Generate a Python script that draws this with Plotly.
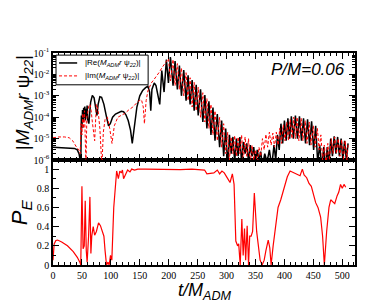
import plotly.graph_objects as go

# ---- data ----
re_t = [0, 10, 20, 30, 37, 42, 45, 47, 48,
        49, 50, 51, 52, 53, 54, 55, 56, 57, 58, 59, 60, 62,
        65, 68, 71, 74, 76, 78, 81, 84, 88, 92, 96, 99, 103, 108, 113, 118, 122,
        126, 130, 134, 137, 140, 145, 150, 155, 160, 164, 167, 169, 171, 175, 178,
        181, 184.5, 188, 192, 196, 199.5, 203, 207.5, 211, 215, 218.5, 222, 226, 230,
        233.5, 237, 240.5, 244, 247.5, 251, 255, 259, 262.5, 266, 269.5, 273, 276.5,
        280, 284, 288, 291.5, 295, 298.5, 302, 305, 308, 311, 314, 317, 320, 323,
        326, 329, 332, 335, 338, 341, 344, 347, 350, 353, 356, 359, 362, 366, 370,
        374, 378, 382, 385, 388, 391, 394, 397, 400, 403, 406, 409, 412, 415.5, 419,
        422.5, 426, 429.5, 433, 436.5, 440, 443.5, 447, 450.5, 454, 457.5, 461, 464.5,
        468, 471, 474, 477, 480, 483, 486, 489, 492, 495, 498, 501, 504, 507, 510]
re_v = [4.0e-6, 3.9e-6, 3.8e-6, 3.7e-6, 3.5e-6, 3.0e-6, 2.0e-6, 1.0e-6, 5e-7,
        1.2e-4, 3e-5, 2.2e-4, 6e-5, 2.8e-4, 9e-5, 3.2e-4, 7e-5, 2.5e-4, 1.1e-4, 3.5e-4, 8e-5, 5e-5,
        5e-4, 1.05e-3, 8e-4, 2.5e-4, 1.2e-4, 4e-4, 9e-4, 8.5e-4, 4e-4, 1.2e-4, 4e-5, 5e-5, 1e-4,
        1.4e-4, 1.7e-4, 1.9e-4, 1.8e-4,
        1.3e-4, 7e-5, 2.5e-5, 6e-6, 3e-5, 3e-4, 1e-3, 1.8e-3, 2.4e-3, 2.8e-3, 1.5e-3, 2e-4, 2e-3, 4e-3, 3e-3,
        1e-3, 4e-4, 1.5e-2, 1.5e-3, 5e-2, 4e-3, 6.5e-2, 3e-3, 4.2e-2, 2e-3, 2.6e-2, 1e-3, 1.6e-2, 6e-4,
        9e-3, 4e-4, 5.5e-3, 2e-4, 3.3e-3, 1.2e-4, 2e-3, 6e-5, 1.1e-3, 3e-5, 5.5e-4, 1.5e-5, 2.8e-4,
        8e-6, 1.4e-4, 4e-6, 7e-5, 1.5e-6, 3e-5, 5e-7, 1.5e-5, 2e-6, 1.2e-5, 8e-7, 1e-5, 1.5e-6, 1.2e-5,
        7e-7, 7e-6, 2e-6, 6e-6, 8e-7, 5e-6, 1.5e-6, 4e-6, 6e-7, 3e-6, 1e-6, 2.5e-6, 5e-7, 2e-6, 8e-7,
        3e-6, 5e-7, 5e-6, 1e-6, 1.5e-5, 3e-6, 5e-5, 6e-6, 7e-5, 8e-6, 9e-5, 1e-5, 1.1e-4, 1e-5, 1.2e-4,
        1e-5, 1.1e-4, 8e-6, 9e-5, 6e-6, 8e-5, 5e-6, 6.5e-5, 3e-6, 4e-5, 8e-7, 5e-6, 5e-7,
        4e-6, 3e-7, 4e-6, 6e-7, 1e-5, 1.5e-6, 1.3e-5, 2e-6, 1.2e-5, 1.5e-6, 1e-5, 1e-6, 8e-6, 1e-6, 6e-6]

im_t = [0, 10, 20, 28, 34, 38, 42, 45, 47, 48.5, 50, 51.5, 53, 54.5, 56, 57, 58.5, 60,
        62, 64, 66, 68, 70, 72, 75, 78, 81, 84.5, 87, 90, 94, 98, 102, 106, 112, 118, 124,
        131, 138, 144, 149, 153, 156, 158, 161, 164, 170, 175, 180, 184, 188, 192.5, 196,
        199.5, 203, 207.5, 211, 215, 218.5, 222, 226, 230, 233.5, 237, 240.5, 244, 247.5,
        251, 255, 259, 262.5, 266, 269.5, 273, 276.5, 280, 284, 288, 291.5, 295, 298.5, 302,
        305, 308, 311, 314, 317, 320, 323, 326, 329, 332, 335, 338, 341, 344, 347, 350, 353,
        356, 359, 362, 365, 368, 371, 374, 377, 380, 383, 386, 389, 392, 395, 398, 401, 404,
        407, 410, 413, 416, 419, 422, 425, 429, 432, 436, 439, 443, 446, 450, 453, 457, 460,
        463, 466, 469, 472, 475, 478, 481, 484, 487, 490, 493, 496, 499, 502, 505, 508, 510]
im_v = [1.1e-5, 1.2e-5, 1.2e-5, 1.1e-5, 8e-6, 5e-6, 3.5e-6, 3e-6, 2e-6, 5e-5, 1.5e-5, 1.5e-4,
        3e-5, 2e-4, 8e-6, 5e-7, 1e-4, 2e-4,
        3.5e-4, 4e-4, 2e-4, 6e-5, 2e-5, 8e-6, 4e-4, 2e-4, 3e-5, 5e-7, 2e-5, 8e-5, 1e-4, 3e-5,
        6e-6, 4e-5, 1e-4, 1.2e-4, 1.5e-4,
        2.2e-4, 3e-4, 4.5e-4, 6e-4, 6.5e-4, 3e-4, 5e-5, 6e-4, 1.7e-3, 4e-3, 6e-3, 9e-3, 1.3e-2,
        2e-2, 3e-2, 4.5e-2,
        5.5e-2, 5e-3, 5e-2, 3e-3, 3.2e-2, 2e-3, 2e-2, 1e-3, 1.2e-2, 6e-4, 7e-3, 3e-4, 4.2e-3, 2e-4,
        2.5e-3, 1e-4, 1.4e-3, 6e-5, 7.5e-4, 3e-5, 4e-4, 1.5e-5, 2e-4, 8e-6, 1e-4, 4e-6, 5e-5, 2e-6,
        2e-5,
        1e-6, 1.2e-5, 2e-6, 1.4e-5, 1.5e-6, 1.2e-5, 2e-6, 1.5e-5, 1e-6, 1.2e-5, 1.5e-6, 1e-5, 7e-7,
        5e-6, 1e-6, 3e-6, 5e-7,
        4e-6, 1.5e-6, 1e-5, 3e-6, 1.6e-5, 4e-6, 2e-5, 5e-6, 1.8e-5, 4e-6, 2e-5, 5e-6, 3e-5, 6e-6,
        4.5e-5, 8e-6, 6e-5,
        8e-6, 8e-5, 1e-5, 1e-4, 1e-5, 1e-4, 8e-6, 9e-5, 8e-6, 7e-5, 6e-6, 6e-5, 5e-6, 4e-5, 4e-6,
        3e-5, 3e-6,
        1.5e-5, 1e-6, 5e-6, 5e-7, 6e-6, 1e-6, 1e-5, 2e-6, 1.2e-5, 2e-6, 1e-5, 1.5e-6, 9e-6, 1e-6,
        8e-6, 1e-6, 5e-6]

pe_t = [0, 2, 5, 8, 15, 25, 35, 42, 47, 48,
        50, 52, 54, 55.7, 57.5, 59, 61.5, 63.8, 65.5, 67, 69.5, 72, 75, 78.7, 82, 85.6, 88,
        90, 92.5, 95, 97, 99.4, 101.7, 105, 108, 110, 113, 115.5, 118, 120, 122, 126, 129,
        133, 136, 141, 146.5, 160, 180, 200, 220, 240, 255, 262, 266, 272, 278, 284, 288,
        292, 296, 302, 306, 310, 313, 316, 319, 321, 323.6, 326.4, 328.7, 331, 333, 335.6,
        338, 340, 342.5, 345, 348, 352, 354.6, 358, 361.5, 365, 368, 372, 374.7, 377,
        380.5, 385, 389, 393.7, 399, 405, 409.8, 416.7, 422, 427, 431, 434, 438.5, 442.5,
        446.5, 450, 454, 458, 462.6, 466, 469, 473, 477, 480, 483, 487, 491, 494, 497, 500,
        503, 506]
pe_v = [0.05, 0.22, 0.255, 0.26, 0.24, 0.2, 0.14, 0.08, 0.02, 0.0,
        0.82, 0.17, 0.2, 0.67, 0.15, 0.03, 0.3, 0.71, 0.12, 0.3, 0.4, 0.31, 0.35, 0.44, 0.41,
        0.33, 0.3,
        0.15, 0.0, 0.03, 0.0, 0.1, 0.05, 0.6, 0.9, 0.98, 0.9, 0.98, 0.96, 0.99, 0.9, 0.95, 0.99,
        0.97, 1.0, 0.99, 1.0, 1.0, 0.998, 1.0, 0.995, 1.0, 0.998, 0.99, 0.95, 0.955, 0.96, 0.99,
        0.95,
        0.98, 0.96, 0.9, 0.86, 0.95, 0.84, 0.25, 0.2, 0.22, 0.0, 0.48, 0.1, 0.38, 0.05, 0.41,
        0.0, 0.3, 0.3, 0.35, 0.75, 0.35, 0.2, 0.05, 0.0, 0.05, 0.15, 0.26, 0.18, 0.0,
        0.2, 0.45, 0.6, 0.68, 0.8, 0.92, 0.98, 0.96, 0.95, 0.93, 1.0, 0.94, 0.91, 0.85,
        0.82, 0.73, 0.65, 0.6, 0.5, 0.3, 0.0, 0.35, 0.6, 0.68, 0.66, 0.64, 0.72, 0.76, 0.84, 0.8,
        0.84, 0.81]

x_tickvals = [0, 50, 100, 150, 200, 250, 300, 350, 400, 450, 500]
log_tickvals = [1e-6, 1e-5, 1e-4, 1e-3, 1e-2, 1e-1]
log_ticktext = ["10<sup>-6</sup>", "10<sup>-5</sup>", "10<sup>-4</sup>",
                "10<sup>-3</sup>", "10<sup>-2</sup>", "10<sup>-1</sup>"]
pe_tickvals = [0, 0.2, 0.4, 0.6, 0.8, 1]
pe_ticktext = ["0", "0.2", "0.4", "0.6", "0.8", "1"]

SANS = "Liberation Sans"
SERIF = "Liberation Serif"
psi = "<i>M</i><sub><i>ADM</i></sub><i>r</i> \u03c8<sub><i>22</i></sub>"
re_name = "|Re(" + psi + ")|"
im_name = "|Im(" + psi + ")|"

fig = go.Figure()
fig.add_trace(go.Scatter(x=re_t, y=re_v, mode="lines", xaxis="x2", yaxis="y2",
                         line=dict(color="black", width=1.5), name=re_name, showlegend=False))
fig.add_trace(go.Scatter(x=im_t, y=im_v, mode="lines", xaxis="x2", yaxis="y2",
                         line=dict(color="red", width=1, dash="3px,2px"), name=im_name,
                         showlegend=False))
fig.add_trace(go.Scatter(x=pe_t, y=pe_v, mode="lines", xaxis="x", yaxis="y",
                         line=dict(color="red", width=1.2), showlegend=False))

ax_common = dict(showline=True, linecolor="black", linewidth=1.5, mirror="allticks",
                 ticks="inside", tickcolor="black", showgrid=False, zeroline=False)
split = 0.495

# legend box drawn in paper coordinates (top-left of upper panel)
lg_x0, lg_x1, lg_y0, lg_y1 = 0.01, 0.315, 0.85, 0.99
row1, row2 = 0.953, 0.892
shapes = [
    dict(type="rect", xref="paper", yref="paper", x0=lg_x0, x1=lg_x1, y0=lg_y0, y1=lg_y1,
         line=dict(color="black", width=1), fillcolor="white", layer="above"),
    dict(type="line", xref="paper", yref="paper", x0=0.02, x1=0.08, y0=row1, y1=row1,
         line=dict(color="black", width=1.5), layer="above"),
    dict(type="line", xref="paper", yref="paper", x0=0.02, x1=0.08, y0=row2, y1=row2,
         line=dict(color="red", width=1, dash="3px,2px"), layer="above"),
]

annotations = [
    dict(text=re_name, xref="paper", yref="paper", x=0.1, y=row1, xanchor="left",
         yanchor="middle", showarrow=False, font=dict(family=SANS, size=8, color="black")),
    dict(text=im_name, xref="paper", yref="paper", x=0.1, y=row2, xanchor="left",
         yanchor="middle", showarrow=False, font=dict(family=SANS, size=8, color="black")),
    dict(text="<i>P/M=0.06</i>", xref="paper", yref="paper",
         x=0.975, y=0.922, xanchor="right", yanchor="middle", showarrow=False,
         font=dict(family=SANS, size=17, color="black")),
    dict(text="<i>t/M</i><sub><i>ADM</i></sub>", xref="paper", yref="paper",
         x=0.50, y=-0.126, xanchor="center", yanchor="middle", showarrow=False,
         font=dict(family=SANS, size=18, color="black")),
    dict(text="|" + psi + "|", xref="paper", yref="paper", textangle=-90,
         x=-0.098, y=0.765, xanchor="center", yanchor="middle", showarrow=False,
         font=dict(family=SANS, size=19, color="black")),
    dict(text="<i>P</i><sub><i>E</i></sub>", xref="paper", yref="paper", textangle=-90,
         x=-0.105, y=0.25, xanchor="center", yanchor="middle", showarrow=False,
         font=dict(family=SANS, size=22, color="black")),
]

fig.update_layout(
    width=392, height=303,
    margin=dict(l=45, r=45, t=45, b=46),
    paper_bgcolor="white", plot_bgcolor="white",
    showlegend=False,
    xaxis=dict(range=[0, 522], anchor="y", tickvals=x_tickvals,
               ticklen=6, tickwidth=1,
               minor=dict(dtick=10, tick0=0, ticklen=3, ticks="inside", tickcolor="black"),
               tickfont=dict(family=SERIF, size=10, color="black"),
               **ax_common),
    xaxis2=dict(range=[0, 522], anchor="y2", matches="x", showticklabels=False,
                tickvals=x_tickvals, ticklen=6, tickwidth=1,
                minor=dict(dtick=10, tick0=0, ticklen=3, ticks="inside", tickcolor="black"),
                **ax_common),
    yaxis=dict(domain=[0, split], range=[0, 1.094], anchor="x",
               tickvals=pe_tickvals, ticktext=pe_ticktext, ticklen=6,
               minor=dict(dtick=0.1, tick0=0, ticklen=3, ticks="inside", tickcolor="black"),
               tickfont=dict(family=SERIF, size=10, color="black"),
               **ax_common),
    yaxis2=dict(domain=[split, 1], type="log", range=[-6, -1], anchor="x2",
                tickvals=log_tickvals, ticktext=log_ticktext, ticklen=6,
                minor=dict(dtick="D1", ticklen=3, ticks="inside", tickcolor="black"),
                tickfont=dict(family=SERIF, size=10, color="black"),
                **ax_common),
    shapes=shapes,
    annotations=annotations,
)

fig.write_html("out.html")
